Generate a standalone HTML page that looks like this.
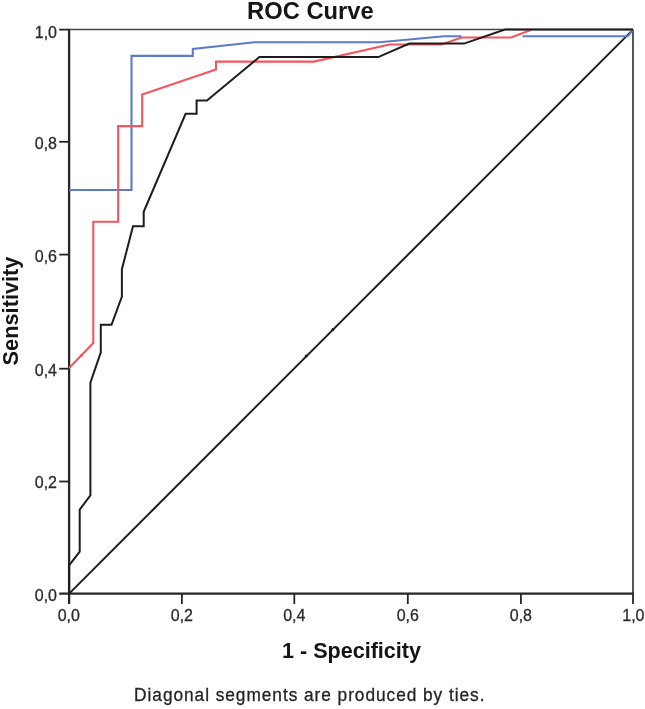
<!DOCTYPE html>
<html lang="en">
<head>
<meta charset="utf-8">
<title>ROC Curve</title>
<style>
  html, body { margin: 0; padding: 0; background: #ffffff; }
  body { width: 645px; height: 709px; overflow: hidden; position: relative; }
  svg { position: absolute; left: 0; top: 0; display: block; }
  #art { filter: url(#soft); }
  text { font-family: "Liberation Sans", Arial, Helvetica, sans-serif; }
  .tick { font-size: 16px; fill: #2c2c2c; stroke: #2c2c2c; stroke-width: 0.3px; }
  .axt { font-size: 22px; font-weight: bold; fill: #141414; }
  .ttl { font-size: 24.3px; font-weight: bold; fill: #141414; }
  .cap { font-size: 18.2px; fill: #242424; stroke: #242424; stroke-width: 0.3px; }
</style>
</head>
<body>
<svg width="645" height="709" viewBox="0 0 645 709">
  <defs><filter id="soft" x="0" y="0" width="645" height="709" filterUnits="userSpaceOnUse"><feGaussianBlur stdDeviation="0.45"/></filter></defs>
  <rect x="0" y="0" width="645" height="709" fill="#ffffff"/>
  <g id="art">

  <!-- title -->
  <text class="ttl" x="310.4" y="18.6" text-anchor="middle" textLength="126.6" lengthAdjust="spacingAndGlyphs">ROC Curve</text>

  <!-- frame: top and right (thin), left and bottom (axes) -->
  <g fill="none" stroke="#444444" stroke-linecap="butt">
    <line x1="69.1" y1="29.6" x2="633" y2="29.6" stroke-width="1.5"/>
    <line x1="633" y1="29.6" x2="633" y2="593.6" stroke-width="1.8"/>
  </g>
  <g fill="none" stroke="#262626" stroke-linecap="butt">
    <line x1="69.1" y1="28.9" x2="69.1" y2="604" stroke-width="2.3"/>
    <line x1="59.2" y1="593.6" x2="633.8" y2="593.6" stroke-width="2.2"/>
    <!-- y ticks -->
    <g stroke-width="1.8">
      <line x1="59.2" y1="29.6" x2="69.1" y2="29.6"/>
      <line x1="59.2" y1="141.8" x2="69.1" y2="141.8"/>
      <line x1="59.2" y1="254.6" x2="69.1" y2="254.6"/>
      <line x1="59.2" y1="368.7" x2="69.1" y2="368.7"/>
      <line x1="59.2" y1="481.5" x2="69.1" y2="481.5"/>
      <!-- x ticks -->
      <line x1="181.9" y1="593.6" x2="181.9" y2="604"/>
      <line x1="294.3" y1="593.6" x2="294.3" y2="604"/>
      <line x1="407.8" y1="593.6" x2="407.8" y2="604"/>
      <line x1="520.9" y1="593.6" x2="520.9" y2="604"/>
      <line x1="633" y1="593.6" x2="633" y2="604"/>
    </g>
  </g>

  <!-- reference diagonal -->
  <line x1="69.1" y1="593.6" x2="633" y2="29.6" stroke="#1e1e1e" stroke-width="2"/>

  <circle cx="81.6" cy="355.4" r="1.3" fill="#f3565e"/>
  <g fill="#1e1e1e"><circle cx="332.9" cy="329.4" r="1.5"/><circle cx="306.2" cy="356" r="1.5"/></g>
  <!-- curves -->
  <g fill="none" stroke-linejoin="miter" stroke-linecap="butt">
    <polyline stroke="#5f7ac8" stroke-width="2.1"
      points="69.1,190 131.5,190 131.5,55.9 192.8,55.9 192.8,49 254.4,42.3 379.5,42.3 444,36.3 461.5,36.3"/>
    <polyline stroke="#5f7ac8" stroke-width="2.1"
      points="522.5,36.3 627.8,36.3 633,29.8"/>
    <polyline stroke="#f3565e" stroke-width="2.1"
      points="69.1,368 93.3,343 93.3,221.7 118.2,221.7 118.2,126.1 142.2,126.1 142.2,94.4 216,69.5 216,61.6 314,61.6 389.5,44.5 441.6,44.5 461.6,37.5 511.2,37.5 531.5,29.8"/>
    <polyline stroke="#1e1e1e" stroke-width="2"
      points="69.1,593.6 69.1,565.4 79.7,551.7 79.7,509.6 90.4,495.4 90.4,382.7 100.8,352.4 100.8,324.8 111.5,324.8 121.9,296.5 121.9,269.2 133,226.2 143.7,226.2 143.7,211.8 185.6,113.8 196.6,113.8 196.6,100.4 207,100.4 259.4,57.1 378.3,57.1 409.3,43.6 464,43.6 505,29.6 633,29.6"/>
  </g>

  <!-- y tick labels -->
  <g class="tick" text-anchor="end">
    <text x="57" y="38.1">1,0</text>
    <text x="57" y="149">0,8</text>
    <text x="57" y="261.8">0,6</text>
    <text x="57" y="375.9">0,4</text>
    <text x="57" y="488.4">0,2</text>
    <text x="57" y="600.9">0,0</text>
  </g>
  <!-- x tick labels -->
  <g class="tick" text-anchor="middle">
    <text x="68.8" y="621">0,0</text>
    <text x="181.9" y="621">0,2</text>
    <text x="294.3" y="621">0,4</text>
    <text x="407.8" y="621">0,6</text>
    <text x="520.9" y="621">0,8</text>
    <text x="633.4" y="621">1,0</text>
  </g>

  <!-- axis titles -->
  <text class="axt" x="351.5" y="657.5" text-anchor="middle" textLength="139" lengthAdjust="spacingAndGlyphs">1 - Specificity</text>
  <text class="axt" transform="translate(18,311) rotate(-90)" text-anchor="middle" textLength="108.8" lengthAdjust="spacingAndGlyphs">Sensitivity</text>

  <!-- footnote -->
  <text class="cap" transform="translate(134.1,700.9) scale(0.95,1)" x="0" y="0" textLength="368.8" lengthAdjust="spacing">Diagonal segments are produced by ties.</text>
  </g>
</svg>
</body>
</html>
